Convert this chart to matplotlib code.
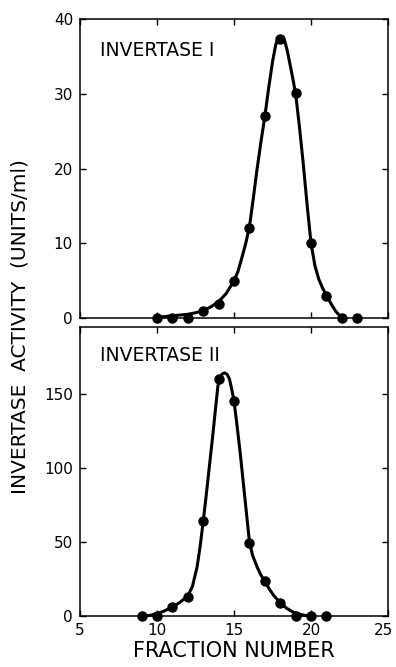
import numpy as np
import matplotlib
matplotlib.use("Agg")
import matplotlib.pyplot as plt
import matplotlib.transforms as mtransforms

# measured points (fraction number, activity)
frac_1 = [10, 11, 12, 13, 14, 15, 16, 17, 18, 19, 20, 21, 22, 23]
act_1 = [0, 0, 0, 0.9, 1.9, 5.0, 12.1, 27.0, 37.3, 30.1, 10.1, 3.0, 0, 0]

frac_2 = [9, 10, 11, 12, 13, 14, 15, 16, 17, 18, 19, 20, 21]
act_2 = [0, 0, 5.8, 13, 64, 160, 145, 49, 23.5, 9, 0, 0, 0]

# hand drawn curves
curve_x1 = [10, 11, 12, 12.5, 13, 13.5, 14, 14.5, 15, 15.25, 15.5, 15.75, 16, 16.25, 16.5,
            16.75, 17, 17.25, 17.5, 17.7, 17.85, 18, 18.15, 18.3, 18.45, 18.6, 18.8, 19,
            19.25, 19.5, 19.75, 20, 20.25, 20.5, 20.75, 21, 21.3, 21.6, 22]
curve_y1 = [0.1, 0.3, 0.5, 0.7, 1.0, 1.5, 2.2, 3.3, 5.0, 6.2, 8.0, 9.9, 12.2, 16.0, 20.0,
            23.6, 27.0, 30.8, 34.3, 36.5, 37.4, 37.7, 37.6, 37.0, 35.8, 34.3, 32.2, 30.0,
            25.5, 20.5, 15.0, 10.0, 7.0, 5.2, 4.0, 3.0, 1.9, 0.9, 0]

curve_x2 = [9, 9.5, 10, 10.5, 11, 11.5, 12, 12.3, 12.6, 12.8, 13, 13.2, 13.4, 13.6, 13.8,
            13.95, 14.1, 14.25, 14.4, 14.55, 14.7, 14.85, 15, 15.2, 15.4, 15.6, 15.8, 16,
            16.2, 16.5, 16.75, 17, 17.3, 17.6, 18, 18.4, 18.8, 19.2, 19.6, 20]
curve_y2 = [0, 0.3, 1.5, 3.5, 6, 9.3, 13.5, 20, 33, 47, 64, 82, 101, 120, 140,
            155, 161, 163.5, 164, 163, 160, 153, 145, 128, 110, 90, 70, 50,
            41, 33, 27.5, 23.5, 18, 13.5, 9, 5.3, 2.8, 1.2, 0.4, 0]

fig = plt.figure(figsize=(3.96, 6.67), dpi=100)
ax1 = fig.add_axes([0.202, 0.5232, 0.778, 0.4483])
ax2 = fig.add_axes([0.202, 0.0765, 0.778, 0.4333])

panels = [
    (ax1, frac_1, act_1, curve_x1, curve_y1, 40, [0, 10, 20, 30, 40], "INVERTASE I", 0.895),
    (ax2, frac_2, act_2, curve_x2, curve_y2, 195, [0, 50, 100, 150], "INVERTASE II", 0.9),
]

for ax, fx, fy, cx, cy, ytop, yt, name, ty in panels:
    ax.plot(cx, cy, color="black", lw=2.2, solid_joinstyle="round", clip_on=False)
    ax.plot(fx, fy, "o", color="black", ms=6.5, clip_on=False)
    ax.set_xlim(5, 25)
    ax.set_ylim(0, ytop)
    ax.set_xticks([5, 10, 15, 20, 25])
    ax.set_yticks(yt)
    ax.tick_params(direction="in", top=True, right=True, length=4, width=1,
                   labelsize=11, pad=5)
    for s in ax.spines.values():
        s.set_linewidth(1.1)
    ax.text(0.065, ty, name, transform=ax.transAxes, fontsize=13.5,
            va="center", ha="left")

ax1.tick_params(labelbottom=False)
ax2.set_xticklabels(["5", "10", "15", "20", "25"])
ax2.set_xlabel("FRACTION NUMBER", fontsize=15, labelpad=2)

# keep the last tick label inside the figure
last = ax2.get_xticklabels()[-1]
last.set_transform(last.get_transform() +
                   mtransforms.ScaledTranslation(-3 / 72, 0, fig.dpi_scale_trans))

fig.text(0.05, 0.511, "INVERTASE  ACTIVITY  (UNITS/ml)", rotation=90,
         fontsize=14.5, ha="center", va="center")

fig.savefig("out.png", dpi=100)
